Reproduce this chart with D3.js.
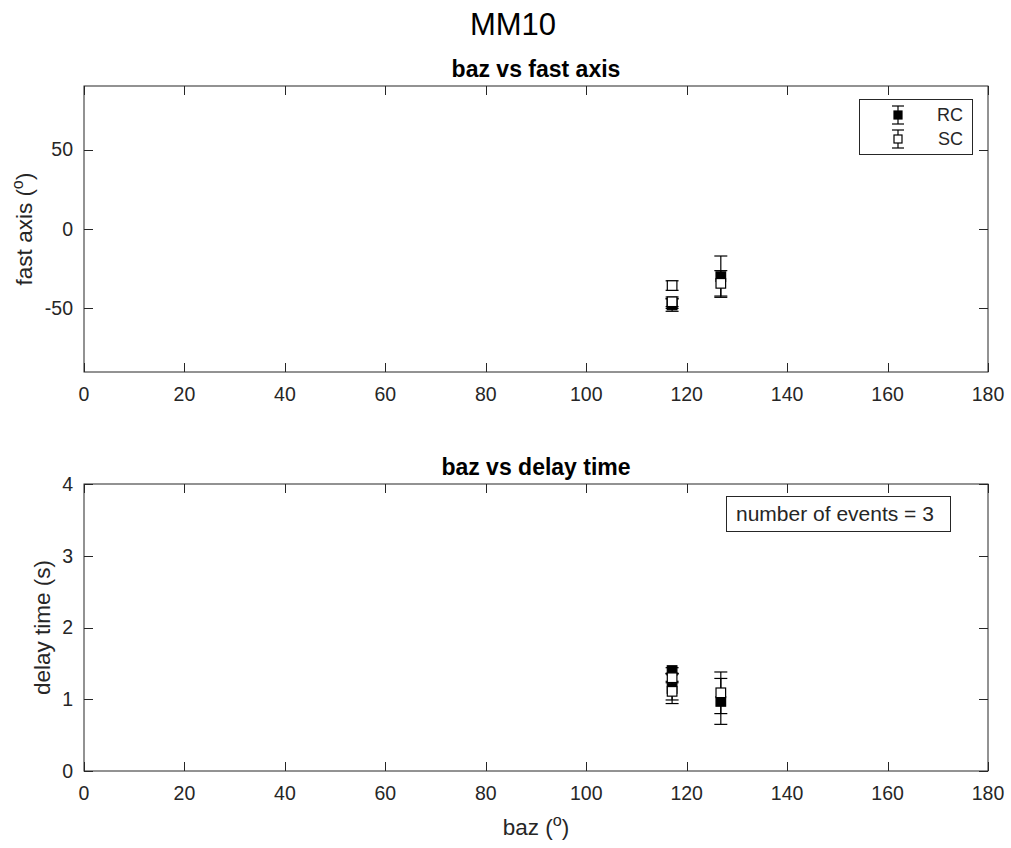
<!DOCTYPE html>
<html>
<head>
<meta charset="utf-8">
<style>
body { margin: 0; background: #fff; }
text { font-family: "Liberation Sans", Arial, Helvetica, sans-serif; fill: #262626; }
</style>
</head>
<body>
<div id="chart"></div>
<script src="https://d3js.org/d3.v7.min.js"></script>
<script>
// event data (3 events)
var baz        = [117.1, 117.1, 126.8];
var rcFast     = [-47.8, -47.0, -30.0];
var rcFastErr  = [4, 3, 13];
var scFast     = [-35.6, -45.8, -34.2];
var scFastErr  = [3, 3, 8];
var rcDelay    = [1.40, 1.15, 0.97];
var rcDelayErr = [0.04, 0.21, 0.32];
var scDelay    = [1.30, 1.11, 1.09];
var scDelayErr = [0.05, 0.12, 0.29];

var xTicks = [0, 20, 40, 60, 80, 100, 120, 140, 160, 180];
var fastTicks = [-50, 0, 50];
var delayTicks = [0, 1, 2, 3, 4];

var W = 1011, H = 848;
var left = 84, right = 988;
var axColor = "#262626";

var svg = d3.select("#chart").append("svg")
  .attr("width", W).attr("height", H);

svg.append("text")
  .attr("x", 513).attr("y", 35)
  .attr("text-anchor", "middle")
  .style("font-size", "31px")
  .style("fill", "#000")
  .text("MM10");

var x = d3.scaleLinear().domain([0, 180]).range([left, right]);

function degLabel(sel, base) {
  sel.append("tspan").text(base + " (");
  sel.append("tspan").attr("baseline-shift", "super").style("font-size", "0.72em").text("o");
  sel.append("tspan").text(")");
}

function panel(top, bottom, yDomain, yTicks, title, rc, rcErr, sc, scErr) {
  var y = d3.scaleLinear().domain(yDomain).range([bottom, top]);
  var g = svg.append("g");
  var tl = 9;

  // box
  g.append("rect")
    .attr("x", left).attr("y", top)
    .attr("width", right - left).attr("height", bottom - top)
    .attr("fill", "none").attr("stroke", axColor).attr("stroke-width", 1);

  // x ticks (inside, bottom and top)
  xTicks.forEach(function(t) {
    var px = Math.round(x(t)) + 0.5;
    g.append("line").attr("x1", px).attr("x2", px).attr("y1", bottom).attr("y2", bottom - tl)
      .attr("stroke", axColor);
    g.append("line").attr("x1", px).attr("x2", px).attr("y1", top).attr("y2", top + tl)
      .attr("stroke", axColor);
    g.append("text").attr("x", x(t)).attr("y", bottom + 29)
      .attr("text-anchor", "middle").style("font-size", "19.5px").text(t);
  });

  yTicks.forEach(function(t) {
    var py = Math.round(y(t)) + 0.5;
    g.append("line").attr("x1", left).attr("x2", left + tl).attr("y1", py).attr("y2", py)
      .attr("stroke", axColor);
    g.append("line").attr("x1", right).attr("x2", right - tl).attr("y1", py).attr("y2", py)
      .attr("stroke", axColor);
    g.append("text").attr("x", left - 11).attr("y", y(t)).attr("dy", "0.35em")
      .attr("text-anchor", "end").style("font-size", "19.5px").text(t);
  });

  g.append("text")
    .attr("x", (left + right) / 2).attr("y", top - 9)
    .attr("text-anchor", "middle")
    .style("font-size", "23px").style("font-weight", "bold").style("fill", "#000")
    .text(title);

  // error bars + markers: RC first (filled), SC on top (open)
  var series = [
    {v: rc, e: rcErr, fill: "#000"},
    {v: sc, e: scErr, fill: "#fff"}
  ];
  var cap = 6.5, half = 4.8;
  series.forEach(function(s) {
    var pts = baz.map(function(b, i) { return {b: b, v: s.v[i], e: s.e[i]}; });
    var eb = g.append("g").attr("stroke", "#000").attr("stroke-width", 1.2);
    pts.forEach(function(d) {
      var cx = x(d.b), y1 = y(d.v + d.e), y2 = y(d.v - d.e);
      eb.append("line").attr("x1", cx).attr("x2", cx).attr("y1", y1).attr("y2", y2);
      eb.append("line").attr("x1", cx - cap).attr("x2", cx + cap).attr("y1", y1).attr("y2", y1);
      eb.append("line").attr("x1", cx - cap).attr("x2", cx + cap).attr("y1", y2).attr("y2", y2);
    });
    g.append("g").selectAll("rect").data(pts).enter().append("rect")
      .attr("x", function(d) { return x(d.b) - half; })
      .attr("y", function(d) { return y(d.v) - half; })
      .attr("width", 2 * half).attr("height", 2 * half)
      .attr("fill", s.fill).attr("stroke", "#000").attr("stroke-width", 1.2);
  });
  return g;
}

var g1 = panel(86, 372, [-90, 90], fastTicks, "baz vs fast axis",
  rcFast, rcFastErr, scFast, scFastErr);
var g2 = panel(484, 771, [0, 4], delayTicks, "baz vs delay time",
  rcDelay, rcDelayErr, scDelay, scDelayErr);

// y labels
g1.append("text")
  .attr("transform", "translate(32," + ((86 + 372) / 2) + ") rotate(-90)")
  .attr("text-anchor", "middle").style("font-size", "22.5px")
  .call(degLabel, "fast axis");
g2.append("text")
  .attr("transform", "translate(50," + ((484 + 771) / 2) + ") rotate(-90)")
  .attr("text-anchor", "middle").style("font-size", "22.5px")
  .text("delay time (s)");

// x label
g2.append("text")
  .attr("x", (left + right) / 2).attr("y", 835)
  .attr("text-anchor", "middle").style("font-size", "22.5px")
  .call(degLabel, "baz");

// legend (top panel)
var lg = g1.append("g");
lg.append("rect").attr("x", 859.5).attr("y", 99.5).attr("width", 113).attr("height", 55)
  .attr("fill", "#fff").attr("stroke", axColor);
[{name: "RC", fill: "#000", cy: 115}, {name: "SC", fill: "#fff", cy: 139}].forEach(function(d) {
  var cx = 898;
  lg.append("line").attr("x1", cx).attr("x2", cx).attr("y1", d.cy - 9).attr("y2", d.cy + 9)
    .attr("stroke", "#000").attr("stroke-width", 1.2);
  [d.cy - 9, d.cy + 9].forEach(function(yy) {
    lg.append("line").attr("x1", cx - 6).attr("x2", cx + 6).attr("y1", yy).attr("y2", yy)
      .attr("stroke", "#000").attr("stroke-width", 1.2);
  });
  lg.append("rect").attr("x", cx - 4).attr("y", d.cy - 4).attr("width", 8).attr("height", 8)
    .attr("fill", d.fill).attr("stroke", "#000").attr("stroke-width", 1.2);
  lg.append("text").attr("x", 963).attr("y", d.cy).attr("dy", "0.35em")
    .attr("text-anchor", "end").style("font-size", "18px").text(d.name);
});

// annotation box (bottom panel)
g2.append("rect").attr("x", 726.5).attr("y", 496.5).attr("width", 224).attr("height", 35)
  .attr("fill", "#fff").attr("stroke", axColor);
g2.append("text").attr("x", 736).attr("y", 514).attr("dy", "0.35em")
  .style("font-size", "21px").text("number of events = 3");
</script>
</body>
</html>
